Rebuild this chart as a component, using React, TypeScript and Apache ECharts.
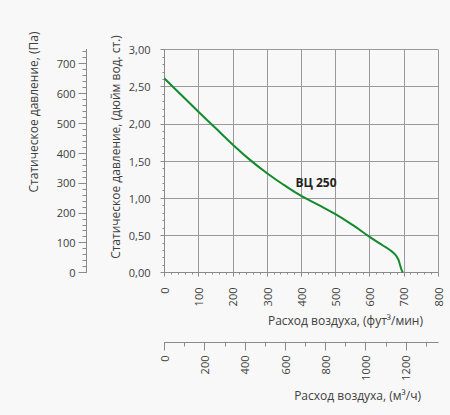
import React, { useEffect, useRef } from "react";
import * as echarts from "echarts";

// Airflow, cubic feet per minute
const flowCfm = [0, 50, 100, 150, 200, 250, 300, 350, 400, 450, 500, 550, 600, 640, 660, 675, 684, 689, 693, 697];
// Static pressure, inches of water
const pressureInWg = [2.61, 2.385, 2.16, 1.94, 1.72, 1.515, 1.335, 1.175, 1.03, 0.91, 0.785, 0.64, 0.48, 0.36, 0.3, 0.24, 0.175, 0.1, 0.04, 0.0];

const cfmTicks = [0, 100, 200, 300, 400, 500, 600, 700, 800];
const inWgTicks = [0, 0.5, 1, 1.5, 2, 2.5, 3];
const m3hMajorTicks = [0, 200, 400, 600, 800, 1000, 1200];
const m3hMinorTicks = [100, 300, 500, 700, 900, 1100, 1300];
const paMajorTicks = [0, 100, 200, 300, 400, 500, 600, 700];
const paMinorTicks = [20, 40, 60, 80, 120, 140, 160, 180, 220, 240, 260, 280, 320, 340, 360, 380, 420, 440, 460, 480, 520, 540, 560, 580, 620, 640, 660, 680, 720, 740];

const CFM_TO_M3H = 1.699;
const INWG_TO_PA = 249.09;

const seriesName = "ВЦ 250";
const titlePa = "Статическое давление, (Па)";
const titleInWg = "Статическое давление, (дюйм вод. ст.)";
const titleCfm = "Расход воздуха, (фут³/мин)";
const titleM3h = "Расход воздуха, (м³/ч)";

const FONT = "'Open Sans', 'Noto Sans', sans-serif";
const TXT = "#404040";
const AXIS = "#8a8a8a";

export default function App() {
  const ref = useRef<HTMLDivElement>(null);
  useEffect(() => {
    if (!ref.current) return;
    const chart = echarts.init(ref.current, undefined, { renderer: "svg" });
    const xMax = cfmTicks[cfmTicks.length - 1];
    const yMax = inWgTicks[inWgTicks.length - 1];
    const labelStyle = { color: TXT, fontSize: 11, fontFamily: FONT };
    const plain = (v: number) => String(Math.round(v));
    chart.setOption({
      animation: false,
      backgroundColor: "#f8f8f8",
      textStyle: { fontFamily: FONT },
      grid: { left: 164.5, top: 49.5, width: 273.5, height: 223 },
      xAxis: [
        {
          type: "value",
          min: 0,
          max: xMax,
          interval: 100,
          position: "bottom",
          axisLine: { show: true, onZero: false, lineStyle: { color: AXIS } },
          axisTick: { show: true, length: 4, lineStyle: { color: AXIS } },
          minorTick: { show: true, splitNumber: 5, length: 2, lineStyle: { color: AXIS } },
          splitLine: { show: true, lineStyle: { color: "#9a9a9a", width: 1 } },
          axisLabel: { ...labelStyle, rotate: 90, margin: 15, formatter: plain },
        },
        {
          type: "value",
          min: 0,
          max: xMax * CFM_TO_M3H,
          position: "bottom",
          offset: 70,
          axisLine: { show: true, onZero: false, lineStyle: { color: AXIS } },
          axisTick: { show: true, length: 8, customValues: m3hMajorTicks, lineStyle: { color: AXIS } },
          axisLabel: { ...labelStyle, rotate: 90, margin: 13, customValues: m3hMajorTicks, formatter: plain },
          splitLine: { show: false },
        },
        {
          type: "value",
          min: 0,
          max: xMax * CFM_TO_M3H,
          position: "bottom",
          offset: 70,
          axisLine: { show: true, onZero: false, lineStyle: { color: AXIS } },
          axisTick: { show: true, length: 4, customValues: m3hMinorTicks, lineStyle: { color: AXIS } },
          axisLabel: { show: false },
          splitLine: { show: false },
        },
      ],
      yAxis: [
        {
          type: "value",
          min: 0,
          max: yMax,
          interval: 0.5,
          position: "left",
          axisLine: { show: true, onZero: false, lineStyle: { color: AXIS } },
          axisTick: { show: true, length: 4, lineStyle: { color: AXIS } },
          minorTick: { show: true, splitNumber: 5, length: 2, lineStyle: { color: AXIS } },
          splitLine: { show: true, lineStyle: { color: "#9a9a9a", width: 1 } },
          axisLabel: {
            ...labelStyle,
            margin: 14,
            formatter: (v: number) => v.toFixed(2).replace(".", ","),
          },
        },
        {
          type: "value",
          min: 0,
          max: yMax * INWG_TO_PA,
          position: "left",
          offset: 78,
          axisLine: { show: true, onZero: false, lineStyle: { color: AXIS } },
          axisTick: { show: true, length: 8, customValues: paMajorTicks, lineStyle: { color: AXIS } },
          axisLabel: { ...labelStyle, margin: 11, customValues: paMajorTicks, formatter: plain },
          splitLine: { show: false },
        },
        {
          type: "value",
          min: 0,
          max: yMax * INWG_TO_PA,
          position: "left",
          offset: 78,
          axisLine: { show: true, onZero: false, lineStyle: { color: AXIS } },
          axisTick: { show: true, length: 4, customValues: paMinorTicks, lineStyle: { color: AXIS } },
          axisLabel: { show: false },
          splitLine: { show: false },
        },
      ],
      series: [
        {
          name: seriesName,
          type: "line",
          xAxisIndex: 0,
          yAxisIndex: 0,
          data: flowCfm.map((x, i) => [x, pressureInWg[i]]),
          showSymbol: false,
          smooth: 0.45,
          lineStyle: { color: "#138a2c", width: 2 },
          z: 5,
        },
      ],
      graphic: [
        {
          type: "text",
          x: 33,
          y: 112,
          rotation: Math.PI / 2,
          style: { text: titlePa, fill: TXT, font: `12px ${FONT}`, textAlign: "center", textVerticalAlign: "middle" },
        },
        {
          type: "text",
          x: 115,
          y: 147,
          rotation: Math.PI / 2,
          style: { text: titleInWg, fill: TXT, font: `12px ${FONT}`, textAlign: "center", textVerticalAlign: "middle" },
        },
        {
          type: "text",
          x: 423,
          y: 320,
          style: { text: titleCfm, fill: TXT, font: `12px ${FONT}`, textAlign: "right", textVerticalAlign: "middle" },
        },
        {
          type: "text",
          x: 421,
          y: 395,
          style: { text: titleM3h, fill: TXT, font: `12px ${FONT}`, textAlign: "right", textVerticalAlign: "middle" },
        },
        {
          type: "text",
          x: 316,
          y: 182.5,
          z: 10,
          style: { text: seriesName, fill: "#222", font: `bold 12px ${FONT}`, textAlign: "center", textVerticalAlign: "middle" },
        },
      ],
    });
    return () => chart.dispose();
  }, []);
  return (
    <div
      ref={ref}
      style={{ position: "absolute", left: 0, top: 0, width: 450, height: 415 }}
    />
  );
}
